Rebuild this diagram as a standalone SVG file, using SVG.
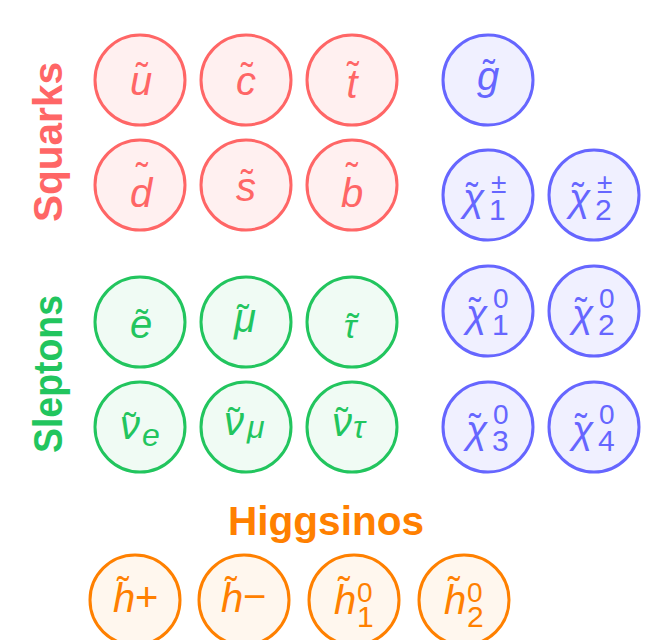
<svg xmlns="http://www.w3.org/2000/svg" width="649" height="640" viewBox="0 0 649 640">
<style>
text{font-family:"Liberation Sans",Arial,sans-serif}
.m{font-style:italic;font-size:40px;text-anchor:middle}
.ms{font-style:italic;font-size:40px}
.ch{font-style:italic;font-size:39px}
.tl{font-size:36px;text-anchor:middle}
.sb{font-size:30px}
.sp{font-size:28px}
.pm{font-size:28px}
.op{font-size:40px}
.se{font-style:italic;font-size:32px}
.ttl{font-weight:bold;font-size:41px;text-anchor:middle}
.sq circle{fill:#FFF0F0;stroke:#FF6666;stroke-width:3}
.sq text{fill:#FF6666}
.sl circle{fill:#F0FBF4;stroke:#22C55E;stroke-width:3}
.sl text{fill:#22C55E}
.gb circle{fill:#F0F0FF;stroke:#6666FF;stroke-width:3}
.gb text{fill:#6666FF}
.hg circle{fill:#FFF7EE;stroke:#FF8000;stroke-width:3}
.hg text{fill:#FF8000}
</style>
<g id="labels">
<text class="ttl" fill="#FF6666" transform="translate(62,142) rotate(-90)" textLength="160" lengthAdjust="spacingAndGlyphs">Squarks</text>
<text class="ttl" fill="#22C55E" transform="translate(62,374) rotate(-90)" textLength="158" lengthAdjust="spacingAndGlyphs">Sleptons</text>
<text class="ttl" fill="#FF8000" x="326" y="535" textLength="196" lengthAdjust="spacingAndGlyphs">Higgsinos</text>
</g>
<g id="connectors"></g>
<!-- Squarks -->
<g id="su" class="sq"><circle cx="140" cy="80" r="45"/><text class="m" x="141" y="95">u</text><text class="tl" x="142" y="89">˜</text></g>
<g id="sc" class="sq"><circle cx="246" cy="80" r="45"/><text class="m" x="246" y="95">c</text><text class="tl" x="247" y="89">˜</text></g>
<g id="st" class="sq"><circle cx="352" cy="80" r="45"/><text class="m" x="352" y="98">t</text><text class="tl" x="353" y="88">˜</text></g>
<g id="sd" class="sq"><circle cx="140" cy="185" r="45"/><text class="m" x="141" y="207">d</text><text class="tl" x="142" y="189">˜</text></g>
<g id="ss" class="sq"><circle cx="246" cy="185" r="45"/><text class="m" x="246" y="201">s</text><text class="tl" x="247" y="196">˜</text></g>
<g id="sb" class="sq"><circle cx="352" cy="185" r="45"/><text class="m" x="352" y="207">b</text><text class="tl" x="352" y="189">˜</text></g>
<!-- Gauginos -->
<g id="gluino" class="gb"><circle cx="488" cy="80" r="45"/><text class="m" x="488" y="90">g</text><text class="tl" x="489" y="86">˜</text></g>
<g id="chargino1" class="gb"><circle cx="488" cy="195" r="45"/><text class="ch" x="463" y="211">χ</text><text class="tl" x="472" y="209">˜</text><text class="pm" x="491" y="193">±</text><text class="sb" x="489" y="220">1</text></g>
<g id="chargino2" class="gb"><circle cx="594" cy="195" r="45"/><text class="ch" x="569" y="211">χ</text><text class="tl" x="578" y="209">˜</text><text class="pm" x="597" y="193">±</text><text class="sb" x="595" y="220">2</text></g>
<g id="neutralino1" class="gb"><circle cx="488" cy="311" r="45"/><text class="ch" x="466" y="327">χ</text><text class="tl" x="475" y="324">˜</text><text class="sp" x="493" y="308">0</text><text class="sb" x="492" y="335">1</text></g>
<g id="neutralino2" class="gb"><circle cx="594" cy="311" r="45"/><text class="ch" x="572" y="327">χ</text><text class="tl" x="581" y="324">˜</text><text class="sp" x="599" y="308">0</text><text class="sb" x="598" y="335">2</text></g>
<g id="neutralino3" class="gb"><circle cx="488" cy="427" r="45"/><text class="ch" x="466" y="443">χ</text><text class="tl" x="475" y="440">˜</text><text class="sp" x="493" y="424">0</text><text class="sb" x="492" y="451">3</text></g>
<g id="neutralino4" class="gb"><circle cx="594" cy="427" r="45"/><text class="ch" x="572" y="443">χ</text><text class="tl" x="581" y="440">˜</text><text class="sp" x="599" y="424">0</text><text class="sb" x="598" y="451">4</text></g>
<!-- Sleptons -->
<g id="se" class="sl"><circle cx="140" cy="322" r="45"/><text class="m" x="141" y="338">e</text><text class="tl" x="142" y="336">˜</text></g>
<g id="smu" class="sl"><circle cx="246" cy="322" r="45"/><text class="m" x="245" y="332">μ</text><text class="tl" x="243" y="331">˜</text></g>
<g id="stau" class="sl"><circle cx="352" cy="322" r="45"/><text class="m" x="350" y="338" style="font-size:34px">τ</text><text class="tl" x="353" y="340">˜</text></g>
<g id="snue" class="sl"><circle cx="140" cy="427" r="45"/><text class="ms" x="120" y="439">ν</text><text class="tl" x="130" y="439">˜</text><text class="se" x="142" y="446">e</text></g>
<g id="snumu" class="sl"><circle cx="246" cy="427" r="45"/><text class="ms" x="224" y="435">ν</text><text class="tl" x="234" y="434">˜</text><text class="se" x="247" y="438">μ</text></g>
<g id="snutau" class="sl"><circle cx="352" cy="427" r="45"/><text class="ms" x="332" y="436">ν</text><text class="tl" x="342" y="434">˜</text><text class="se" x="353" y="438">τ</text></g>
<!-- Higgsinos -->
<g id="hplus" class="hg"><circle cx="135" cy="600" r="45"/><text class="ms" x="113" y="612">h</text><text class="tl" x="123" y="603">˜</text><text class="op" x="135" y="611">+</text></g>
<g id="hminus" class="hg"><circle cx="244" cy="600" r="45"/><text class="ms" x="221" y="612">h</text><text class="tl" x="231" y="603">˜</text><text class="op" x="243" y="610">−</text></g>
<g id="h01" class="hg"><circle cx="354" cy="600" r="45"/><text class="ms" x="334" y="614">h</text><text class="tl" x="344" y="603">˜</text><text class="sp" x="357" y="602">0</text><text class="sb" x="357" y="627">1</text></g>
<g id="h02" class="hg"><circle cx="464" cy="600" r="45"/><text class="ms" x="444" y="614">h</text><text class="tl" x="454" y="603">˜</text><text class="sp" x="467" y="602">0</text><text class="sb" x="467" y="627">2</text></g>
</svg>
